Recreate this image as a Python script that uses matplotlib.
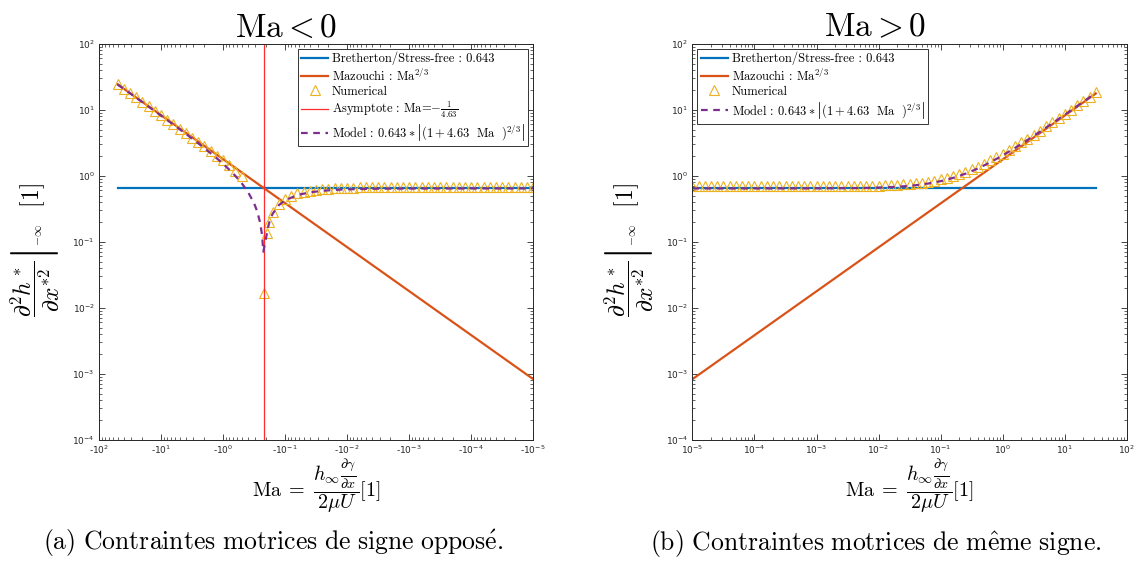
import numpy as np
import matplotlib
matplotlib.use("Agg")
import matplotlib.pyplot as plt

plt.rcParams["mathtext.fontset"] = "dejavusans"
plt.rcParams["axes.unicode_minus"] = False

# couleurs MATLAB par défaut
c_blue = "#0072BD"
c_orange = "#D95319"
c_yellow = "#EDB120"
c_purple = "#7E2F8E"
c_red = "#FF2A2A"

# ---- Ma < 0 (abscisse = log10|Ma|) ----
bret_left_log = [1.7, -5.0]
bret_left_val = [0.643, 0.643]
maz_left_log = [1.7, -5.0]
maz_left_val = [24.3, 8.3e-4]
asym_abs_ma = 1 / 4.63

num_left_log = [1.7, 1.6, 1.5, 1.4, 1.3, 1.2, 1.1, 1.0, 0.9, 0.8, 0.7, 0.6, 0.5, 0.4,
                0.3, 0.2, 0.1, 0.0, -0.1, -0.2, -0.3,
                -0.655,
                -0.71, -0.74, -0.8, -0.9, -1.0, -1.1, -1.2, -1.3, -1.4, -1.5, -1.6, -1.7,
                -1.8, -1.9, -2.0, -2.1, -2.2, -2.3, -2.4, -2.5, -2.6, -2.7, -2.8, -2.9,
                -3.0, -3.1, -3.2, -3.3, -3.4, -3.5, -3.6, -3.7, -3.8, -3.9, -4.0, -4.1,
                -4.2, -4.3, -4.4, -4.5, -4.6, -4.7, -4.8, -4.9, -5.0]
num_left_val = [24.5, 20.9, 18.0, 15.4, 13.2, 11.3, 9.7, 8.3, 7.1, 6.1, 5.2, 4.45, 3.8, 3.25,
                2.78, 2.36, 2.0, 1.72, 1.45, 1.2, 1.0,
                0.017,
                0.135, 0.2, 0.28, 0.38, 0.45, 0.50, 0.54, 0.57, 0.595, 0.612, 0.625, 0.635,
                0.643, 0.65, 0.655, 0.66, 0.665, 0.665, 0.665, 0.665, 0.665, 0.665, 0.665, 0.665,
                0.665, 0.665, 0.665, 0.665, 0.665, 0.665, 0.665, 0.665, 0.665, 0.665, 0.665, 0.665,
                0.665, 0.665, 0.665, 0.665, 0.665, 0.665, 0.665, 0.665, 0.665]

model_left_log = [1.7, 1.6, 1.5, 1.4, 1.3, 1.2, 1.1, 1.0, 0.9, 0.8, 0.7, 0.6, 0.5, 0.4,
                  0.3, 0.2, 0.1, 0.0, -0.1, -0.2, -0.3, -0.4, -0.5, -0.55, -0.6, -0.63, -0.65,
                  -0.73, -0.75, -0.8, -0.9, -1.0, -1.2, -1.4, -1.6, -1.8, -2.0, -2.5, -3.0,
                  -4.0, -5.0]
model_left_val = [24.2, 20.74, 17.86, 15.23, 13.05, 11.17, 9.56, 8.17, 6.98, 5.96, 5.08, 4.32,
                  3.67, 3.11, 2.62, 2.20, 1.84, 1.52, 1.24, 0.994, 0.774, 0.574, 0.385, 0.291,
                  0.192, 0.1246, 0.0707,
                  0.172, 0.203, 0.266, 0.359, 0.425, 0.511, 0.561, 0.592, 0.611, 0.623, 0.637,
                  0.641, 0.643, 0.643]

# ---- Ma > 0 ----
bret_right_log = [-5.0, 1.5]
bret_right_val = [0.643, 0.643]
maz_right_log = [-5.0, 1.5]
maz_right_val = [8.3e-4, 17.6]

num_right_log = [-5.0, -4.9, -4.8, -4.7, -4.6, -4.5, -4.4, -4.3, -4.2, -4.1, -4.0, -3.9, -3.8,
                 -3.7, -3.6, -3.5, -3.4, -3.3, -3.2, -3.1, -3.0, -2.9, -2.8, -2.7, -2.6,
                 -2.5, -2.4, -2.3, -2.2, -2.1, -2.0, -1.9, -1.8, -1.7, -1.6, -1.5, -1.4, -1.3,
                 -1.2, -1.1, -1.0, -0.9, -0.8, -0.7, -0.6, -0.5, -0.4, -0.3, -0.2, -0.1, 0.0,
                 0.1, 0.2, 0.3, 0.4, 0.5, 0.6, 0.7, 0.8, 0.9, 1.0, 1.1, 1.2, 1.3, 1.4, 1.5]
num_right_val = [0.69, 0.69, 0.69, 0.69, 0.69, 0.69, 0.69, 0.69, 0.69, 0.69, 0.69, 0.69, 0.69,
                 0.69, 0.69, 0.69, 0.69, 0.69, 0.69, 0.69, 0.69, 0.69, 0.69, 0.69, 0.69,
                 0.695, 0.697, 0.70, 0.702, 0.705, 0.709, 0.714, 0.721, 0.729, 0.74, 0.753,
                 0.77, 0.79, 0.816, 0.847, 0.887, 0.935, 0.993, 1.065, 1.15, 1.255, 1.38, 1.53,
                 1.71, 1.92, 2.17, 2.46, 2.80, 3.20, 3.67, 4.21, 4.85, 5.60, 6.47, 7.49, 8.67,
                 10.07, 11.69, 13.58, 15.78, 18.3]

model_right_log = [-5.0, -4.0, -3.0, -2.5, -2.2, -2.0, -1.8, -1.6, -1.4, -1.2, -1.0, -0.8,
                   -0.6, -0.4, -0.2, 0.0, 0.2, 0.4, 0.6, 0.8, 1.0, 1.2, 1.4, 1.5]
model_right_val = [0.643, 0.643, 0.645, 0.649, 0.655, 0.663, 0.674, 0.692, 0.720, 0.763,
                   0.829, 0.928, 1.075, 1.290, 1.599, 2.034, 2.644, 3.488, 4.648, 6.237,
                   8.40, 11.37, 15.41, 17.96]

left_xticks = [2, 1, 0, -1, -2, -3, -4, -5]
right_xticks = [-5, -4, -3, -2, -1, 0, 1, 2]
yticks = [-4, -3, -2, -1, 0, 1, 2]

ylab = (r"$\left.\dfrac{\partial^2 h^*}{\partial x^{*2}}\right|"
        r"\genfrac{}{}{0}{}{\ }{{}_{-\infty}}\ \ [1]$")
xlab = r"$\mathrm{Ma}\;=\;\dfrac{h_\infty \frac{\partial\gamma}{\partial x}}{2\mu U}[1]$"
lab_bret = "Bretherton/Stress-free : 0.643"
lab_maz = r"Mazouchi : $\mathrm{Ma}^{2/3}$"
lab_num = "Numerical"
lab_asym = r"Asymptote : Ma=$-\frac{1}{4.63}$"
lab_model = r"Model : $0.643*\left|(1+4.63\ \ \mathrm{Ma}\ \ )^{2/3}\right|$"

fig = plt.figure(figsize=(11.37, 5.61), dpi=100)
axL = fig.add_axes([0.087, 0.216, 0.382, 0.706])
axR = fig.add_axes([0.609, 0.216, 0.382, 0.706])

p = lambda v: 10 ** np.array(v, dtype=float)

axL.plot(p(bret_left_log), bret_left_val, color=c_blue, lw=1.6, label=lab_bret)
axL.plot(p(maz_left_log), maz_left_val, color=c_orange, lw=1.6, label=lab_maz)
axL.plot(p(num_left_log), num_left_val, ls="none", marker="^", ms=7, mfc="none",
         mec=c_yellow, mew=0.8, label=lab_num)
axL.axvline(asym_abs_ma, color=c_red, lw=0.9, label=lab_asym)
axL.plot(p(model_left_log), model_left_val, color=c_purple, lw=1.6, dashes=(3, 2.5),
         label=lab_model)

axR.plot(p(bret_right_log), bret_right_val, color=c_blue, lw=1.6, label=lab_bret)
axR.plot(p(maz_right_log), maz_right_val, color=c_orange, lw=1.6, label=lab_maz)
axR.plot(p(num_right_log), num_right_val, ls="none", marker="^", ms=7, mfc="none",
         mec=c_yellow, mew=0.8, label=lab_num)
axR.plot(p(model_right_log), model_right_val, color=c_purple, lw=1.6, dashes=(3, 2.5),
         label=lab_model)

gray = "#262626"
for ax in (axL, axR):
    ax.set_xscale("log")
    ax.set_yscale("log")
    ax.set_ylim(1e-4, 1e2)
    ax.set_yticks(p(yticks))
    ax.set_yticklabels([r"$10^{%d}$" % k for k in yticks])
    ax.tick_params(which="both", direction="in", top=True, right=True, colors=gray,
                   labelsize=6.5, pad=3)
    ax.tick_params(which="major", length=4, width=0.6)
    ax.tick_params(which="minor", length=2, width=0.5)
    for s in ax.spines.values():
        s.set_color(gray)
        s.set_linewidth(0.7)
    ax.set_ylabel(ylab, fontsize=17, math_fontfamily="cm", color="k")
    ax.set_xlabel(xlab, fontsize=14.5, math_fontfamily="cm", color="k", labelpad=1)
    ax.yaxis.set_label_coords(-0.085, 0.48)

axL.set_xlim(1e2, 1e-5)
axL.set_xticks(p(left_xticks))
axL.set_xticklabels([r"-$10^{%d}$" % k for k in left_xticks])
axR.set_xlim(1e-5, 1e2)
axR.set_xticks(p(right_xticks))
axR.set_xticklabels([r"$10^{%d}$" % k for k in right_xticks])

axL.set_title(r"$\mathrm{Ma} < 0$", fontsize=24, math_fontfamily="cm", x=0.43, pad=2)
axR.set_title(r"$\mathrm{Ma} > 0$", fontsize=24, math_fontfamily="cm", x=0.42, pad=2)

leg_kw = dict(frameon=True, fancybox=False, framealpha=1, edgecolor="#333333",
              borderpad=0.25, labelspacing=0.15, handlelength=2.2, handletextpad=0.3,
              borderaxespad=0.4, prop={"family": "cmr10", "size": 9})
legL = axL.legend(loc="upper right", **leg_kw)
legR = axR.legend(loc="upper left", **leg_kw)
for leg in (legL, legR):
    leg.get_frame().set_linewidth(0.7)
    for t in leg.get_texts():
        t.set_math_fontfamily("cm")

fig.text(0.24, 0.02, r"$\mathrm{(a)\ Contraintes\ motrices\ de\ signe\ oppos\acute{e}.}$",
         ha="center", va="baseline", fontsize=18.5, math_fontfamily="cm")
fig.text(0.77, 0.02, r"$\mathrm{(b)\ Contraintes\ motrices\ de\ m\hat{e}me\ signe.}$",
         ha="center", va="baseline", fontsize=18.5, math_fontfamily="cm")

fig.savefig("out.png", dpi=100)
